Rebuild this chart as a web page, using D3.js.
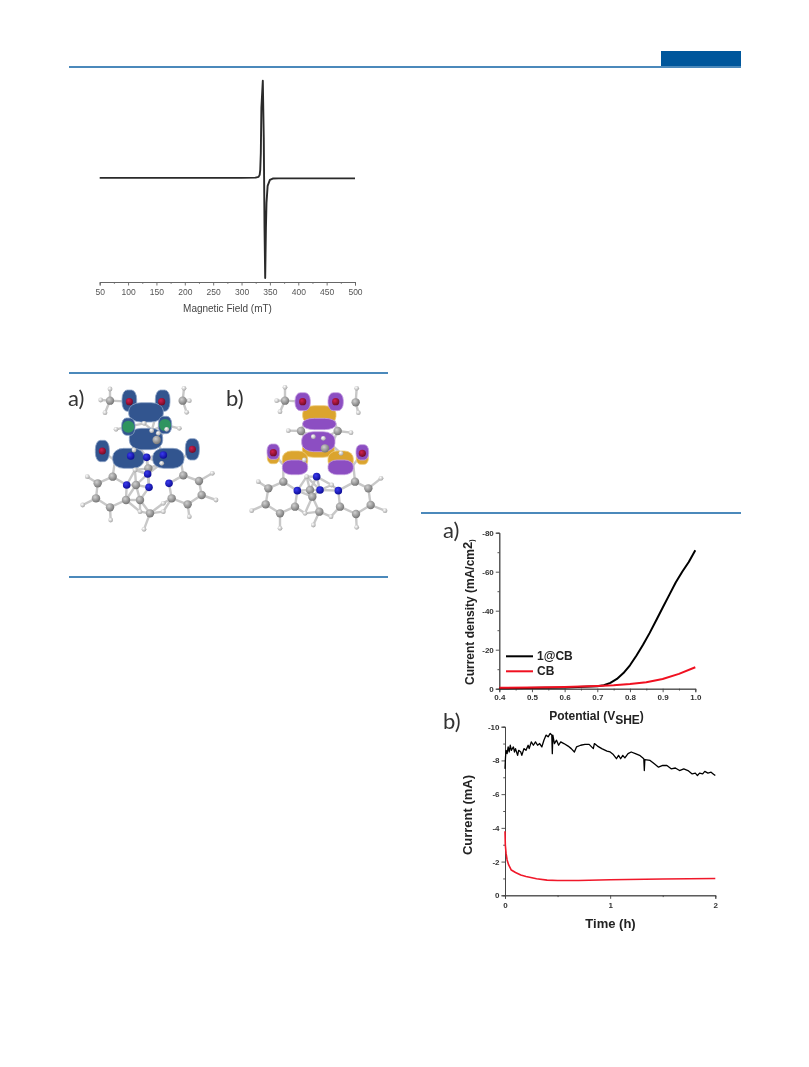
<!DOCTYPE html>
<html>
<head>
<meta charset="utf-8">
<script src="https://cdn.jsdelivr.net/npm/d3@7"></script>
<style>
html, body { margin: 0; background: #fff; }
svg { display: block; filter: blur(0.55px); }
text { font-family: "Liberation Sans", Arial, sans-serif; }
.axis path, .axis line { stroke: #444; stroke-width: 0.9; }
.axis text { fill: #333; font-weight: bold; font-size: 8px; font-family: "Liberation Sans", Arial, sans-serif; }
.epr path, .epr line { stroke: #666; }
.epr text { fill: #555; font-weight: normal; font-size: 8.5px; }
.panel { font-family: Lato, "Open Sans", sans-serif; font-size: 22px; fill: #333; }
.title { font-weight: bold; font-size: 12px; fill: #222; }
.big { font-size: 13px; }
.mol { filter: blur(0.4px); }
</style>
</head>
<body>
<svg width="809" height="1067"></svg>
<script>
const WIDTH = 809;
const HEIGHT = 1067;
const BLUE = '#0f62a5';

// EPR spectrum
var eprField = [50,200,300,325,330,332,333,334,335,337.5,339.2,339.8,340.5,341.7,343,344,346,350,355,365,400,500];
var eprSignal = [0,0,0,0.2,1,3,8,25,70,97,40,0,-50,-100,-50,-25,-8,-2,-0.7,-0.5,-0.5,-0.5];
var eprTicks = [50,100,150,200,250,300,350,400,450,500];
var eprMinor = [75,125,175,225,275,325,375,425,475];

// polarisation curves
var lsvPotential = [0.4,0.6,0.7,0.72,0.74,0.76,0.78,0.8,0.82,0.84,0.86,0.88,0.9,0.92,0.94,0.96,0.98,1.0];
var lsvCatalyst = [-0.2,-0.6,-1.3,-1.8,-3,-5,-8,-12,-17,-22.5,-28.5,-35,-41.5,-48,-54.5,-60,-65,-71];
var lsvPotentialCB = [0.4,0.5,0.6,0.7,0.75,0.8,0.85,0.9,0.95,1.0];
var lsvCB = [-0.5,-0.6,-0.9,-1.4,-1.8,-2.4,-3.3,-5,-7.6,-11];
var lsvXTicks = [0.4,0.5,0.6,0.7,0.8,0.9,1.0];
var lsvXMinor = [0.45,0.55,0.65,0.75,0.85,0.95];
var lsvYTicks = [-80,-60,-40,-20,0];
var lsvYMinor = [-70,-50,-30,-10];

// chronoamperometry
var timeCatalyst = [0,0.005,0.01,0.02,0.03,0.04,0.05,0.06,0.08,0.09,0.1,0.12,0.13,0.15,0.16,0.18,0.2,0.22,0.23,0.25,0.27,0.29,0.31,0.33,0.35,0.37,0.39,0.41,0.43,0.445,0.45,0.455,0.47,0.49,0.51,0.53,0.56,0.6,0.63,0.66,0.68,0.72,0.76,0.8,0.84,0.85,0.88,0.92,0.97,1.0,1.03,1.06,1.08,1.1,1.12,1.14,1.17,1.2,1.24,1.28,1.32,1.325,1.33,1.38,1.42,1.46,1.5,1.54,1.58,1.62,1.66,1.7,1.74,1.78,1.81,1.83,1.85,1.88,1.9,1.93,1.96,1.98,2];
var currentCatalyst = [-7.5,-8.2,-8.6,-8.4,-8.8,-8.5,-8.9,-8.6,-8.8,-8.5,-8.7,-8.3,-8.6,-8.5,-8.3,-8.7,-8.6,-8.9,-8.7,-9.1,-8.9,-9.1,-8.9,-9.0,-8.8,-9.2,-9.5,-9.4,-9.6,-9.5,-8.4,-9.5,-9.0,-9.2,-8.9,-9.1,-9.0,-8.85,-8.7,-8.5,-8.8,-8.9,-8.95,-8.95,-8.7,-9.0,-8.85,-8.7,-8.55,-8.5,-8.35,-8.1,-8.3,-8.1,-8.3,-8.15,-8.4,-8.5,-8.4,-8.3,-8.1,-7.4,-8.05,-8.0,-7.8,-7.6,-7.7,-7.7,-7.5,-7.55,-7.4,-7.5,-7.4,-7.2,-7.25,-7.1,-7.25,-7.2,-7.35,-7.25,-7.3,-7.2,-7.1];
var timeCB = [0,0.003,0.01,0.02,0.035,0.06,0.1,0.15,0.2,0.3,0.4,0.5,0.7,1,1.5,2];
var currentCB = [-3.8,-3.0,-2.5,-2.1,-1.8,-1.5,-1.35,-1.2,-1.12,-0.98,-0.9,-0.88,-0.88,-0.92,-0.97,-1.0];
var timeTicks = [0,1,2];
var timeMinor = [0.5,1.5];
var currentTicks = [-10,-8,-6,-4,-2,0];
var currentMinor = [-9,-7,-5,-3,-1];

// molecule a), in units of a 510 wide box
var aCarbon = [[150,92],[368,92],[158,320],[113,340],[108,385],[150,412],[198,390],[370,316],[417,333],[425,375],[383,403],[335,385],[228,345],[240,390],[270,430],[265,295],[290,210]];
var aHidden = [[165,272],[362,270],[225,130],[290,130],[225,215],[290,190],[205,170],[315,165]];
var aHydrogen = [[150,57],[372,55],[135,128],[380,127],[388,92],[122,90],[82,320],[68,405],[152,450],[457,310],[468,390],[388,440],[310,400],[240,425],[252,478],[310,425],[168,178],[358,175],[320,178],[252,160],[222,240],[275,182],[295,190],[305,280],[225,300]];
var aNitrogen = [[200,345],[267,352],[327,340],[263,312],[260,262],[310,255],[212,258]];
var aOxygen = [[208,95],[305,95],[127,243],[397,238]];
var aGreen = [[205,170],[315,165]];
var aLobes = [[208,92,22,32],[308,92,22,32],[127,243,21,32],[397,238,21,32],[258,127,52,29],[258,207,50,32],[205,265,47,30],[325,265,47,30],[205,170,20,26],[315,165,20,26]];

// molecule b)
var bCarbon = [[180,92],[392,97],[228,183],[338,183],[175,335],[130,355],[122,403],[165,430],[210,410],[390,335],[430,355],[437,405],[393,432],[345,410],[255,360],[262,380],[283,425],[300,235]];
var bHidden = [[175,285],[385,285],[250,130],[320,130],[250,225],[320,225]];
var bHydrogen = [[180,52],[395,55],[165,125],[400,128],[155,92],[190,182],[378,188],[100,335],[80,422],[165,475],[468,325],[480,422],[395,472],[318,440],[265,465],[240,430],[348,250],[295,205],[265,200],[238,270],[320,345],[245,320]];
var bNitrogen = [[217,362],[285,360],[340,362],[275,320]];
var bOxygen = [[233,95],[332,95],[145,248],[412,250]];
var bGoldLobes = [[283,135,50,28],[280,240,48,22],[210,270,38,27],[347,270,38,27],[145,262,18,19],[412,264,18,19]];
var bPurpleLobes = [[283,162,50,17],[280,215,50,30],[210,292,38,22],[347,292,38,22],[233,95,23,27],[332,95,23,27],[145,245,19,23],[412,247,19,23]];

var svg = d3.select('svg').attr('width', WIDTH).attr('height', HEIGHT);

var defs = svg.append('defs');
function sphere(id, hi, lo) {
    var g = defs.append('radialGradient').attr('id', id).attr('cx', '38%').attr('cy', '35%').attr('r', '70%');
    g.append('stop').attr('offset', '0%').attr('stop-color', hi);
    g.append('stop').attr('offset', '100%').attr('stop-color', lo);
}
sphere('ballC', '#d0d0d0', '#707070');
sphere('ballH', '#ffffff', '#a0a0a0');
sphere('ballN', '#3a3af0', '#0a0a90');
sphere('ballO', '#d02050', '#6d0a25');

//page rules
svg.append('rect').attr('x', 661).attr('y', 51).attr('width', 80).attr('height', 15).attr('fill', '#00579c');
var rules = [[69,741,67],[69,388,373],[69,388,577],[421,741,513]];
svg.selectAll('line.rule').data(rules).enter().append('line')
    .attr('class', 'rule')
    .attr('x1', function(d){ return d[0]; })
    .attr('x2', function(d){ return d[1]; })
    .attr('y1', function(d){ return d[2]; })
    .attr('y2', function(d){ return d[2]; })
    .attr('stroke', BLUE).attr('stroke-width', 1.3);

function zip(a, b) {
    return a.map(function(v, i){ return [v, b[i]]; });
}

function curve(x, y, xs, ys, color, width) {
    var line = d3.line().x(function(d){ return x(d[0]); }).y(function(d){ return y(d[1]); });
    svg.append('path').datum(zip(xs, ys))
        .attr('d', line).attr('fill', 'none')
        .attr('stroke', color).attr('stroke-width', width)
        .attr('stroke-linejoin', 'round');
}

function bottomAxis(x, y0, ticks, minor, fmt, cls, pad) {
    svg.append('g').attr('class', 'axis ' + cls).attr('transform', 'translate(0,' + y0 + ')')
        .call(d3.axisBottom(x).tickValues(minor).tickSize(1.8).tickFormat(''));
    svg.append('g').attr('class', 'axis ' + cls).attr('transform', 'translate(0,' + y0 + ')')
        .call(d3.axisBottom(x).tickValues(ticks).tickSize(3.5).tickPadding(pad).tickFormat(fmt));
}

function leftAxis(y, x0, ticks, minor) {
    svg.append('g').attr('class', 'axis').attr('transform', 'translate(' + x0 + ',0)')
        .call(d3.axisLeft(y).tickValues(minor).tickSize(1.8).tickFormat(''));
    svg.append('g').attr('class', 'axis').attr('transform', 'translate(' + x0 + ',0)')
        .call(d3.axisLeft(y).tickValues(ticks).tickSize(3.5).tickPadding(2).tickFormat(String));
}

// EPR
var eprX = d3.scaleLinear().domain([50, 500]).range([99.7, 355]);
var eprY = d3.scaleLinear().domain([-100, 100]).range([278, 77.7]);
bottomAxis(eprX, 282, eprTicks, eprMinor, String, 'epr', 3.5);
curve(eprX, eprY, eprField, eprSignal, '#2a2a2a', 1.9);
svg.append('text').attr('x', 227.5).attr('y', 312)
    .attr('text-anchor', 'middle').attr('font-size', 10).attr('fill', '#444')
    .text('Magnetic Field (mT)');

// molecules
function bonds(x, y, carbon, hidden, hydrogen, nitrogen, oxygen) {
    var heavy = carbon.concat(hidden, nitrogen, oxygen);
    var pairs = [];
    heavy.forEach(function(a, i){
        heavy.slice(i + 1).concat(hydrogen).forEach(function(b){
            if (Math.hypot(a[0] - b[0], a[1] - b[1]) < 60) pairs.push([a, b]);
        });
    });
    svg.append('g').attr('class', 'mol').selectAll('line').data(pairs).enter().append('line')
        .attr('x1', function(d){ return x(d[0][0]); })
        .attr('y1', function(d){ return y(d[0][1]); })
        .attr('x2', function(d){ return x(d[1][0]); })
        .attr('y2', function(d){ return y(d[1][1]); })
        .attr('stroke', '#c8c8c8').attr('stroke-width', 2.4);
}

function balls(x, y, data, fill, r) {
    svg.append('g').attr('class', 'mol').selectAll('circle').data(data).enter().append('circle')
        .attr('cx', function(d){ return x(d[0]); })
        .attr('cy', function(d){ return y(d[1]); })
        .attr('r', r).attr('fill', fill);
}

function atoms(x, y, carbon, hydrogen, nitrogen, oxygen) {
    balls(x, y, hydrogen, 'url(#ballH)', 2.4);
    balls(x, y, carbon, 'url(#ballC)', 4.2);
    balls(x, y, nitrogen, 'url(#ballN)', 3.8);
    balls(x, y, oxygen, 'url(#ballO)', 3.6);
}

function lobes(x, y, data, fill, stroke) {
    var k = x(1) - x(0);
    svg.append('g').attr('class', 'mol').selectAll('rect').data(data).enter().append('rect')
        .attr('x', function(d){ return x(d[0] - d[2]); })
        .attr('y', function(d){ return y(d[1] - d[3]); })
        .attr('width', function(d){ return 2 * d[2] * k; })
        .attr('height', function(d){ return 2 * d[3] * k; })
        .attr('rx', function(d){ return d[2] * k * 0.7; })
        .attr('ry', function(d){ return d[3] * k * 0.85; })
        .attr('fill', fill).attr('stroke', stroke).attr('stroke-width', 0.8);
}

var aX = d3.scaleLinear().domain([0, 510]).range([60, 230]);
var aY = d3.scaleLinear().domain([0, 510]).range([370, 540]);
bonds(aX, aY, aCarbon, aHidden, aHydrogen, aNitrogen, aOxygen);
lobes(aX, aY, aLobes, '#32558f', '#8ea4c6');
balls(aX, aY, aGreen, '#2f9460', 6);
atoms(aX, aY, aCarbon, aHydrogen, aNitrogen, aOxygen);

var bX = d3.scaleLinear().domain([0, 510]).range([225, 395]);
var bY = d3.scaleLinear().domain([0, 510]).range([370, 540]);
bonds(bX, bY, bCarbon, bHidden, bHydrogen, bNitrogen, bOxygen);
lobes(bX, bY, bGoldLobes, '#dba42e', '#eecb7a');
lobes(bX, bY, bPurpleLobes, '#8c4ec2', '#c6a2e2');
atoms(bX, bY, bCarbon, bHydrogen, bNitrogen, bOxygen);

svg.append('text').attr('class', 'panel').attr('x', 68).attr('y', 406).text('a)');
svg.append('text').attr('class', 'panel').attr('x', 226).attr('y', 406).text('b)');

// polarisation
var lsvX = d3.scaleLinear().domain([0.4, 1.0]).range([499.3, 695.3]);
var lsvY = d3.scaleLinear().domain([0, -80]).range([688.7, 532.7]);
bottomAxis(lsvX, 688.7, lsvXTicks, lsvXMinor, d3.format('.1f'), '', 2.5);
leftAxis(lsvY, 499.3, lsvYTicks, lsvYMinor);
curve(lsvX, lsvY, lsvPotential, lsvCatalyst, '#000', 2);
curve(lsvX, lsvY, lsvPotentialCB, lsvCB, '#f01020', 2);

var legend = [['1@CB', '#000', 656.3], ['CB', '#f01020', 671.3]];
svg.selectAll('line.key').data(legend).enter().append('line')
    .attr('class', 'key')
    .attr('x1', 506).attr('x2', 533)
    .attr('y1', function(d){ return d[2]; })
    .attr('y2', function(d){ return d[2]; })
    .attr('stroke', function(d){ return d[1]; }).attr('stroke-width', 2);
svg.selectAll('text.key').data(legend).enter().append('text')
    .attr('class', 'key title')
    .attr('x', 537)
    .attr('y', function(d){ return d[2] + 4; })
    .text(function(d){ return d[0]; });

var lsvYTitle = svg.append('text').attr('class', 'title')
    .attr('text-anchor', 'start')
    .attr('transform', 'translate(474,685) rotate(-90)');
lsvYTitle.append('tspan').text('Current density (mA/cm');
lsvYTitle.append('tspan').attr('dy', -2).attr('font-size', 13).text('2');
lsvYTitle.append('tspan').attr('dy', 2).attr('font-size', 7).text(')');

var lsvXTitle = svg.append('text').attr('class', 'title')
    .attr('x', 596.5).attr('y', 720).attr('text-anchor', 'middle');
lsvXTitle.append('tspan').text('Potential (V');
lsvXTitle.append('tspan').attr('dy', 4).text('SHE');
lsvXTitle.append('tspan').attr('dy', -4).text(')');

svg.append('text').attr('class', 'panel').attr('x', 443).attr('y', 538).text('a)');
svg.append('text').attr('class', 'panel').attr('x', 443).attr('y', 729).text('b)');

// chronoamperometry
var timeX = d3.scaleLinear().domain([0, 2]).range([505, 715.3]);
var currentY = d3.scaleLinear().domain([0, -10]).range([895.3, 726.7]);
bottomAxis(timeX, 895.3, timeTicks, timeMinor, String, '', 3.5);
leftAxis(currentY, 505, currentTicks, currentMinor);
curve(timeX, currentY, timeCatalyst, currentCatalyst, '#000', 1.3);
curve(timeX, currentY, timeCB, currentCB, '#f0182a', 1.6);

svg.append('text').attr('class', 'title big').attr('x', 610.5).attr('y', 928)
    .attr('text-anchor', 'middle').text('Time (h)');
svg.append('text').attr('class', 'title big')
    .attr('text-anchor', 'middle')
    .attr('transform', 'translate(472,815) rotate(-90)')
    .text('Current (mA)');
</script>
</body>
</html>
